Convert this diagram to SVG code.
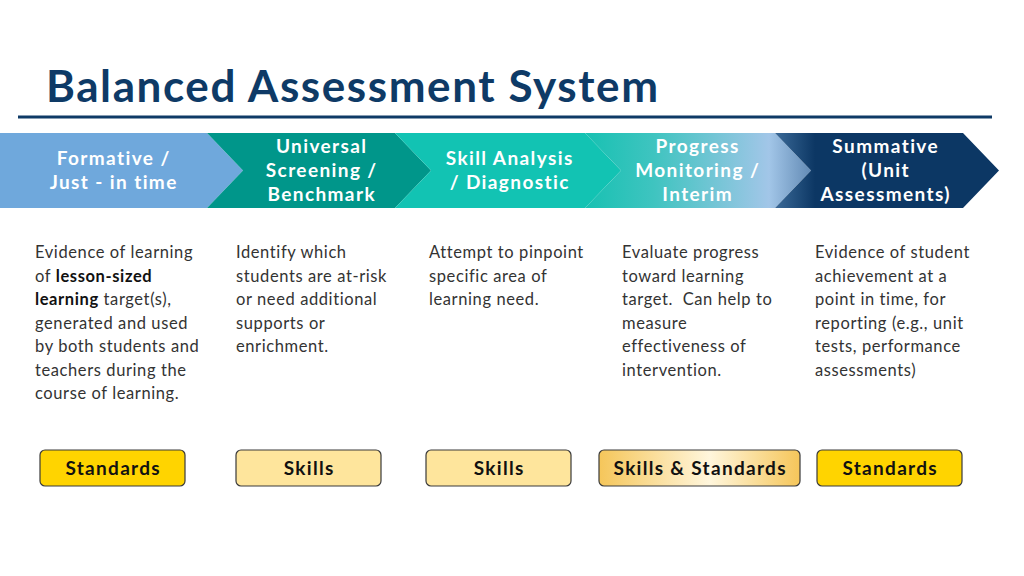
<svg xmlns="http://www.w3.org/2000/svg" width="1024" height="576" viewBox="0 0 1024 576">
<defs>
<style>
.title{font-family:Lato,"Open Sans",sans-serif;font-weight:700;font-size:44px;fill:#0e3a66}
.hd{font-family:Lato,"Open Sans",sans-serif;font-weight:700;font-size:19px;letter-spacing:1.4px;fill:#ffffff;text-anchor:middle}
.bd{font-family:Lato,"Open Sans",sans-serif;font-size:16.5px;letter-spacing:0.6px;fill:#333333}
.b{font-weight:700;fill:#111}
.box{stroke:#3a3a3a;stroke-width:1.2}
.bt{font-family:Lato,"Open Sans",sans-serif;font-weight:700;font-size:19px;letter-spacing:1.3px;fill:#111111;text-anchor:middle}
</style>
<linearGradient id="g4" gradientUnits="userSpaceOnUse" x1="585" y1="0" x2="815" y2="0">
<stop offset="0" stop-color="#18c1b2"/>
<stop offset="0.3" stop-color="#3fc4c0"/>
<stop offset="0.8" stop-color="#a2c6e8"/>
<stop offset="1" stop-color="#5d85b0"/>
</linearGradient>
<linearGradient id="g5" gradientUnits="userSpaceOnUse" x1="775" y1="0" x2="815" y2="0">
<stop offset="0" stop-color="#3b6a98"/>
<stop offset="1" stop-color="#0c3764"/>
</linearGradient>
<linearGradient id="gb" x1="0" y1="0" x2="1" y2="0">
<stop offset="0" stop-color="#f5c65a"/>
<stop offset="0.55" stop-color="#fff6dc"/>
<stop offset="1" stop-color="#f5c65a"/>
</linearGradient>
</defs>
<rect width="1024" height="576" fill="#ffffff"/>
<g id="header">
<text class="title" x="46" y="102" textLength="612" lengthAdjust="spacing">Balanced Assessment System</text>
<line x1="18" y1="117" x2="992" y2="117" stroke="#0e3a66" stroke-width="3"/>
</g>
<g id="connectors"></g>
<g id="stage1">
<polygon points="0,133 207,133 243,170.5 207,208 0,208" fill="#6fa8dc"/>
<text class="hd" x="113.7" y="165">Formative /</text>
<text class="hd" x="113.7" y="189">Just - in time</text>
<text class="bd" x="35" y="258">Evidence of learning</text>
<text class="bd" x="35" y="282">of <tspan class="b">lesson-sized</tspan></text>
<text class="bd" x="35" y="305"><tspan class="b">learning</tspan> target(s),</text>
<text class="bd" x="35" y="329">generated and used</text>
<text class="bd" x="35" y="352">by both students and</text>
<text class="bd" x="35" y="376">teachers during the</text>
<text class="bd" x="35" y="399">course of learning.</text>
<rect class="box" x="40" y="450" width="145" height="36" rx="5" fill="#ffd400"/>
<text class="bt" x="113.2" y="475">Standards</text>
</g>
<g id="stage2">
<polygon points="207,133 395,133 431,170.5 395,208 207,208 243,170.5" fill="#00968a"/>
<text class="hd" x="321.7" y="153">Universal</text>
<text class="hd" x="321.7" y="177">Screening /</text>
<text class="hd" x="321.7" y="201">Benchmark</text>
<text class="bd" x="236" y="258">Identify which</text>
<text class="bd" x="236" y="282">students are at-risk</text>
<text class="bd" x="236" y="305">or need additional</text>
<text class="bd" x="236" y="329">supports or</text>
<text class="bd" x="236" y="352">enrichment.</text>
<rect class="box" x="236" y="450" width="145" height="36" rx="5" fill="#fee59c"/>
<text class="bt" x="309.2" y="475">Skills</text>
</g>
<g id="stage3">
<polygon points="395,133 585,133 621,170.5 585,208 395,208 431,170.5" fill="#12c3b3"/>
<text class="hd" x="509.7" y="165">Skill Analysis</text>
<text class="hd" x="509.7" y="189">/ Diagnostic</text>
<text class="bd" x="429" y="258">Attempt to pinpoint</text>
<text class="bd" x="429" y="282">specific area of</text>
<text class="bd" x="429" y="305">learning need.</text>
<rect class="box" x="426" y="450" width="145" height="36" rx="5" fill="#fee59c"/>
<text class="bt" x="499.2" y="475">Skills</text>
</g>
<g id="stage4">
<polygon points="585,133 775,133 811,170.5 775,208 585,208 621,170.5" fill="url(#g4)"/>
<text class="hd" x="697.7" y="153">Progress</text>
<text class="hd" x="697.7" y="177">Monitoring /</text>
<text class="hd" x="697.7" y="201">Interim</text>
<text class="bd" x="622" y="258">Evaluate progress</text>
<text class="bd" x="622" y="282">toward learning</text>
<text class="bd" x="622" y="305" xml:space="preserve">target.  Can help to</text>
<text class="bd" x="622" y="329">measure</text>
<text class="bd" x="622" y="352">effectiveness of</text>
<text class="bd" x="622" y="376">intervention.</text>
<rect class="box" x="599" y="450" width="201" height="36" rx="5" fill="url(#gb)"/>
<text class="bt" x="700.2" y="475">Skills &amp; Standards</text>
</g>
<g id="stage5">
<polygon points="775,133 963,133 999,170.5 963,208 775,208 811,170.5" fill="url(#g5)"/>
<text class="hd" x="885.7" y="153">Summative</text>
<text class="hd" x="885.7" y="177">(Unit</text>
<text class="hd" x="885.7" y="201">Assessments)</text>
<text class="bd" x="815" y="258">Evidence of student</text>
<text class="bd" x="815" y="282">achievement at a</text>
<text class="bd" x="815" y="305">point in time, for</text>
<text class="bd" x="815" y="329">reporting (e.g., unit</text>
<text class="bd" x="815" y="352">tests, performance</text>
<text class="bd" x="815" y="376">assessments)</text>
<rect class="box" x="817" y="450" width="145" height="36" rx="5" fill="#ffd400"/>
<text class="bt" x="890.2" y="475">Standards</text>
</g>
</svg>
